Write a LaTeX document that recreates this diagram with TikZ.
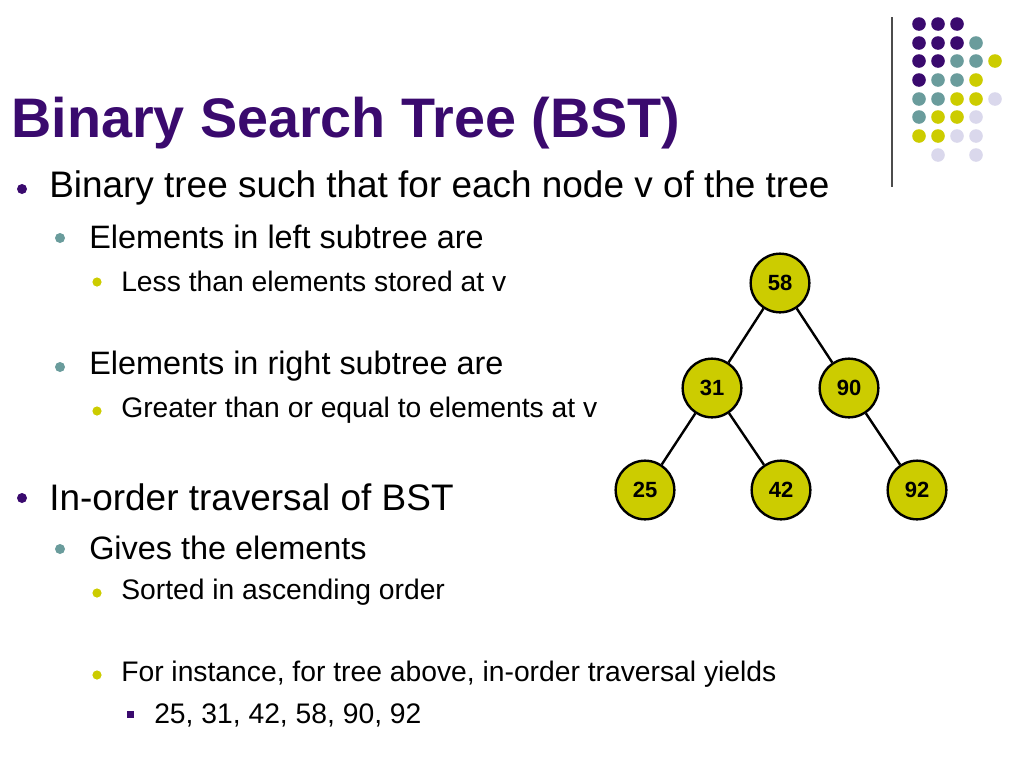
\documentclass[tikz,border=0pt]{standalone}
\usepackage{fontspec}
\setmainfont{Liberation Sans}
\definecolor{bstpurple}{HTML}{3A0A6E}
\definecolor{bstteal}{HTML}{6A9C9C}
\definecolor{bstyellow}{HTML}{CCCC00}
\definecolor{bstlilac}{HTML}{DAD8EC}
\tikzset{
  key/.style={circle,draw=black,line width=1.8pt,fill=bstyellow,minimum size=44pt,inner sep=0pt,font=\fontsize{16.5}{19}\selectfont\bfseries},
  edge/.style={line width=1.8pt},
  txtA/.style={anchor=west,inner sep=0pt,font=\fontsize{27.7}{32}\selectfont},
  txtB/.style={anchor=west,inner sep=0pt,font=\fontsize{24.3}{28}\selectfont},
  txtC/.style={anchor=west,inner sep=0pt,font=\fontsize{21.2}{25}\selectfont},
}
\begin{document}
\begin{tikzpicture}[x=0.75pt,y=-0.75pt]
			\useasboundingbox (0,0) rectangle (1024,768);
			% corner dots
			\draw[line width=0.9pt,black!70] (892,17) -- (892,187);
			\foreach \c/\x/\y in {bstpurple/919/24,bstpurple/938/24,bstpurple/957/24,
				bstpurple/919/43,bstpurple/938/43,bstpurple/957/43,bstteal/976/43,
				bstpurple/919/61,bstpurple/938/61,bstteal/957/61,bstteal/976/61,bstyellow/995/61,
				bstpurple/919/80,bstteal/938/80,bstteal/957/80,bstyellow/976/80,
				bstteal/919/99,bstteal/938/99,bstyellow/957/99,bstyellow/976/99,bstlilac/995/99,
				bstteal/919/117,bstyellow/938/117,bstyellow/957/117,bstlilac/976/117,
				bstyellow/919/136,bstyellow/938/136,bstlilac/957/136,bstlilac/976/136,
				bstlilac/938/155,bstlilac/976/155}
				\fill[\c] (\x,\y) circle (6.8);
			
			% title and bullets
			\node[anchor=west,inner sep=0pt,text=bstpurple,font=\fontsize{41.8}{46}\selectfont\bfseries] (title) at (11,123) {Binary Search Tree (BST)};
			\fill[bstpurple] (22,189) circle (5);
			\node[txtA] (t1) at (49,188) {Binary tree such that for each node v of the tree};
			\fill[bstteal] (60,238) circle (5);
			\node[txtB] (t2) at (89,237) {Elements in left subtree are};
			\fill[bstyellow] (97,282) circle (4.6);
			\node[txtC] (t3) at (121,281) {Less than elements stored at v};
			\fill[bstteal] (60,367) circle (5);
			\node[txtB] (t4) at (89,366) {Elements in right subtree are};
			\fill[bstyellow] (97,411) circle (4.6);
			\node[txtC] (t5) at (121,410) {Greater than or equal to elements at v};
			\fill[bstpurple] (22,498) circle (5);
			\node[txtA] (t6) at (49,497) {In-order traversal of BST};
			\fill[bstteal] (60,549) circle (5);
			\node[txtB] (t7) at (89,548) {Gives the elements};
			\fill[bstyellow] (97,593) circle (4.6);
			\node[txtC] (t8) at (121,592) {Sorted in ascending order};
			\fill[bstyellow] (97,675) circle (4.6);
			\node[txtC] (t9) at (121,674) {For instance, for tree above, in-order traversal yields};
			\fill[bstpurple] (127,711) rectangle +(7,7);
			\node[txtC] (t10) at (154,715) {25, 31, 42, 58, 90, 92};
			
			% tree
			\node[key] (k58) at (780,283) {58};
			\node[key] (k31) at (712,388) {31};
			\node[key] (k90) at (849,388) {90};
			\node[key] (k25) at (645,490) {25};
			\node[key] (k42) at (781,490) {42};
			\node[key] (k92) at (917,490) {92};
			\draw[edge] (k58) -- (k31);
			\draw[edge] (k58) -- (k90);
			\draw[edge] (k31) -- (k25);
			\draw[edge] (k31) -- (k42);
			\draw[edge] (k90) -- (k92);
		\end{tikzpicture}
\end{document}
